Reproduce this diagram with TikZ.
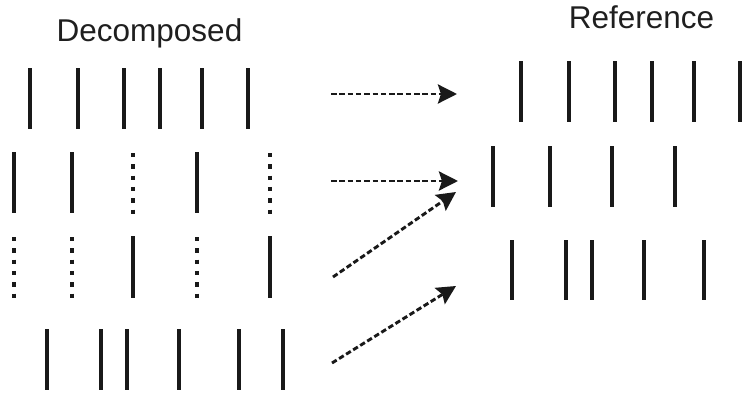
\documentclass[tikz,border=0pt]{standalone}
\usepackage{fontspec}
\setmainfont{Liberation Sans}
\usetikzlibrary{arrows.meta}
\begin{document}
\begin{tikzpicture}[x=1pt,y=-1pt,
  bar/.style={line width=4.6pt,black!90},
  dotbar/.style={line width=4.6pt,black!90,dash pattern=on 4.3pt off 7pt},
  maparrow/.style={line width=2.9pt,black!90,dash pattern=on 5.5pt off 2.8pt,
    -{Stealth[length=19pt,width=19pt,inset=3pt]}},
  heading/.style={font=\fontsize{31.5}{38}\selectfont,anchor=base,text=black!88}]
\useasboundingbox (0,0) rectangle (745,394);

% headings
\node[heading] (hdec) at (149.5,41) {Decomposed};
\node[heading] (href) at (641.5,28) {Reference};

% decomposed patterns
\foreach \x in {30,78,124,160,202,248} \draw[bar] (\x,68) -- (\x,129);
\foreach \x in {14,72,197} \draw[bar] (\x,152) -- (\x,213);
\foreach \x in {133,270} \draw[dotbar] (\x,153) -- (\x,214);
\foreach \x in {14,72,197} \draw[dotbar] (\x,237) -- (\x,298);
\foreach \x in {133,270} \draw[bar] (\x,236) -- (\x,298);
\foreach \x in {47,101,127,179,239,283} \draw[bar] (\x,329) -- (\x,390);

% reference patterns
\foreach \x in {521,569,615,652,694,740} \draw[bar] (\x,61) -- (\x,122);
\foreach \x in {493,550,612,675} \draw[bar] (\x,146) -- (\x,207);
\foreach \x in {512,566,592,644,704} \draw[bar] (\x,240) -- (\x,300);

% arrow end points
\coordinate (s1) at (331,94);
\coordinate (t1) at (457,94);
\coordinate (s2) at (331,181);
\coordinate (t2) at (458,181);
\coordinate (s3) at (333,277);
\coordinate (t3) at (456,192);
\coordinate (s4) at (332,363);
\coordinate (t4) at (456,286);

\draw[maparrow] (s1) -- (t1);
\draw[maparrow] (s2) -- (t2);
\draw[maparrow] (s3) -- (t3);
\draw[maparrow] (s4) -- (t4);
\end{tikzpicture}
\end{document}
